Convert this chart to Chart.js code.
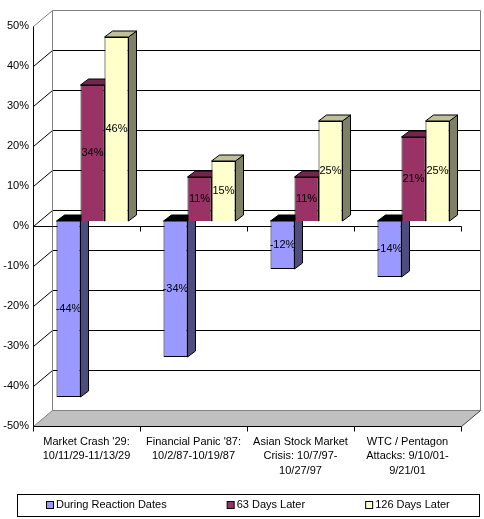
<!DOCTYPE html>
<html>
<head>
<meta charset="utf-8">
<script src="https://cdn.jsdelivr.net/npm/chart.js@4/dist/chart.umd.min.js"></script>
<style>
  html, body { margin: 0; background: #fff; }
</style>
</head>
<body>
<canvas id="chart" width="484" height="519"></canvas>
<script>
var categories = [
  ["Market Crash '29:", "10/11/29-11/13/29"],
  ["Financial Panic '87:", "10/2/87-10/19/87"],
  ["Asian Stock Market", "Crisis: 10/7/97-", "10/27/97"],
  ["WTC / Pentagon", "Attacks: 9/10/01-", "9/21/01"]
];
var seriesNames = ['During Reaction Dates', '63 Days Later', '126 Days Later'];
var duringReaction = [-44, -34, -12, -14];
var days63 = [34, 11, 11, 21];
var days126 = [46, 15, 25, 25];
var yMin = -50, yMax = 50, yStep = 10;

var FONT = 'Arial, "Liberation Sans", sans-serif';
// colours: front, side, top
var styles = [
  { front: '#9999ff', side: '#4d4d80', top: '#000000' },
  { front: '#993366', side: '#4d1a33', top: '#73264d' },
  { front: '#ffffcc', side: '#808066', top: '#bfbf99' }
];
// 3d offsets: back wall, bar plane, bar depth
var WALL_DX = 19, WALL_DY = -16;
var PLANE_DX = 6, PLANE_DY = -5;
var BAR_DX = 8, BAR_DY = -6;

function line(ctx, x1, y1, x2, y2, color) {
  ctx.strokeStyle = color;
  ctx.beginPath();
  ctx.moveTo(x1, y1);
  ctx.lineTo(x2, y2);
  ctx.stroke();
}

function poly(ctx, pts, fill) {
  ctx.beginPath();
  ctx.moveTo(pts[0][0], pts[0][1]);
  for (var i = 1; i < pts.length; i++) ctx.lineTo(pts[i][0], pts[i][1]);
  ctx.closePath();
  ctx.fillStyle = fill;
  ctx.fill();
  ctx.strokeStyle = '#000';
  ctx.stroke();
}

function barFaces(ctx, el, st) {
  var p = el.getProps(['x', 'y', 'base', 'width'], true);
  var l = p.x - p.width / 2, r = p.x + p.width / 2;
  var t = Math.min(p.y, p.base), b = Math.max(p.y, p.base);
  poly(ctx, [[r, t], [r + BAR_DX, t + BAR_DY], [r + BAR_DX, b + BAR_DY], [r, b]], st.side);
  poly(ctx, [[l, t], [l + BAR_DX, t + BAR_DY], [r + BAR_DX, t + BAR_DY], [r, t]], st.top);
}

var box3d = {
  id: 'box3d',
  beforeDatasetsDraw: function(chart) {
    var ctx = chart.ctx, a = chart.chartArea;
    var ys = chart.scales.y, xs = chart.scales.x;
    var L = Math.round(a.left) + 0.5, R = Math.round(a.right) + 0.5;
    var T = Math.round(a.top) + 0.5, B = Math.round(a.bottom) + 0.5;
    var bl = L + WALL_DX, br = R + WALL_DX, bt = T + WALL_DY, bb = B + WALL_DY;

    ctx.save();
    ctx.lineWidth = 1;

    // floor
    ctx.fillStyle = '#c0c0c0';
    ctx.beginPath();
    ctx.moveTo(L, B); ctx.lineTo(bl, bb); ctx.lineTo(br, bb); ctx.lineTo(R, B);
    ctx.closePath();
    ctx.fill();

    // gridlines on the back wall and the left wall
    for (var v = yMin + yStep; v < yMax; v += yStep) {
      var y = Math.round(ys.getPixelForValue(v)) + 0.5;
      line(ctx, bl, y + WALL_DY, br, y + WALL_DY, '#000');
      line(ctx, L, y, bl, y + WALL_DY, '#000');
    }

    // wall edges
    var gray = '#808080';
    line(ctx, L, T, bl, bt, gray);
    line(ctx, bl, bt, br, bt, gray);
    line(ctx, bl, bt, bl, bb, gray);
    line(ctx, br, bt, br, bb, gray);
    line(ctx, bl, bb, br, bb, gray);
    line(ctx, L, B, bl, bb, gray);
    line(ctx, R, B, br, bb, '#404040');

    // front axes
    var y0 = Math.round(ys.getPixelForValue(0)) + 0.5;
    line(ctx, L, T, L, B, '#000');
    line(ctx, L, y0, R, y0, '#000');
    line(ctx, L, B, R, B, '#000');
    var step = xs.getPixelForValue(1) - xs.getPixelForValue(0);
    for (var i = 0; i <= categories.length; i++) {
      var x = Math.round(xs.getPixelForValue(i) - step / 2) + 0.5;
      line(ctx, x, y0, x, y0 + 5, '#000');
      line(ctx, x, B, x, B + 5, '#000');
    }

    // bars in series order, each with its side and top face
    ctx.translate(PLANE_DX, PLANE_DY);
    chart.data.datasets.forEach(function(ds, di) {
      chart.getDatasetMeta(di).data.forEach(function(el) {
        el.draw(ctx);
        barFaces(ctx, el, styles[di]);
      });
    });

    // value labels
    ctx.fillStyle = '#000';
    ctx.font = '11px ' + FONT;
    ctx.textAlign = 'center';
    ctx.textBaseline = 'middle';
    chart.data.datasets.forEach(function(ds, di) {
      chart.getDatasetMeta(di).data.forEach(function(el, j) {
        var p = el.getProps(['x', 'y', 'base'], true);
        ctx.fillText(ds.data[j] + '%', p.x, (p.y + p.base) / 2);
      });
    });
    ctx.restore();
    return false;
  },
  afterDraw: function(chart) {
    var ctx = chart.ctx;
    ctx.save();
    ctx.lineWidth = 1;
    ctx.strokeStyle = '#000';
    ctx.strokeRect(17.5, 494.5, 462, 22);
    ctx.font = '11px ' + FONT;
    ctx.textBaseline = 'middle';
    ctx.textAlign = 'left';
    var gap = 60, box = 7;
    var widths = seriesNames.map(function(s) { return box + 3 + ctx.measureText(s).width; });
    var total = widths.reduce(function(s, w) { return s + w; }, 0) + gap * (widths.length - 1);
    var x = Math.round(248 - total / 2);
    var cy = 505;
    seriesNames.forEach(function(name, i) {
      ctx.fillStyle = styles[i].front;
      ctx.fillRect(x + 0.5, cy - 4 + 0.5, box, box);
      ctx.strokeRect(x + 0.5, cy - 4 + 0.5, box, box);
      ctx.fillStyle = '#000';
      ctx.fillText(name, x + box + 3, cy);
      x += widths[i] + gap;
    });
    ctx.restore();
  }
};

new Chart(document.getElementById('chart'), {
  type: 'bar',
  data: {
    labels: categories,
    datasets: [duringReaction, days63, days126].map(function(vals, i) {
      return {
        label: seriesNames[i],
        data: vals,
        backgroundColor: styles[i].front,
        borderColor: '#000',
        borderWidth: 1,
        categoryPercentage: 0.673,
        barPercentage: 1
      };
    })
  },
  options: {
    responsive: false,
    animation: false,
    layout: { padding: { top: 26, right: 23, bottom: 33, left: 0 } },
    plugins: {
      legend: { display: false },
      tooltip: { enabled: false }
    },
    scales: {
      x: {
        grid: { display: false, drawTicks: false },
        border: { display: false },
        ticks: {
          color: '#000',
          font: { family: FONT, size: 11, lineHeight: 1.3 },
          padding: 9,
          maxRotation: 0,
          autoSkip: false
        },
        afterFit: function(s) { s.height = 60; }
      },
      y: {
        min: yMin,
        max: yMax,
        grid: { display: false, drawTicks: false },
        border: { display: false },
        ticks: {
          stepSize: yStep,
          color: '#000',
          padding: 4,
          font: { family: FONT, size: 11 },
          callback: function(v) { return v + '%'; }
        },
        afterFit: function(s) { s.width = 33; }
      }
    }
  },
  plugins: [box3d]
});
</script>
</body>
</html>
